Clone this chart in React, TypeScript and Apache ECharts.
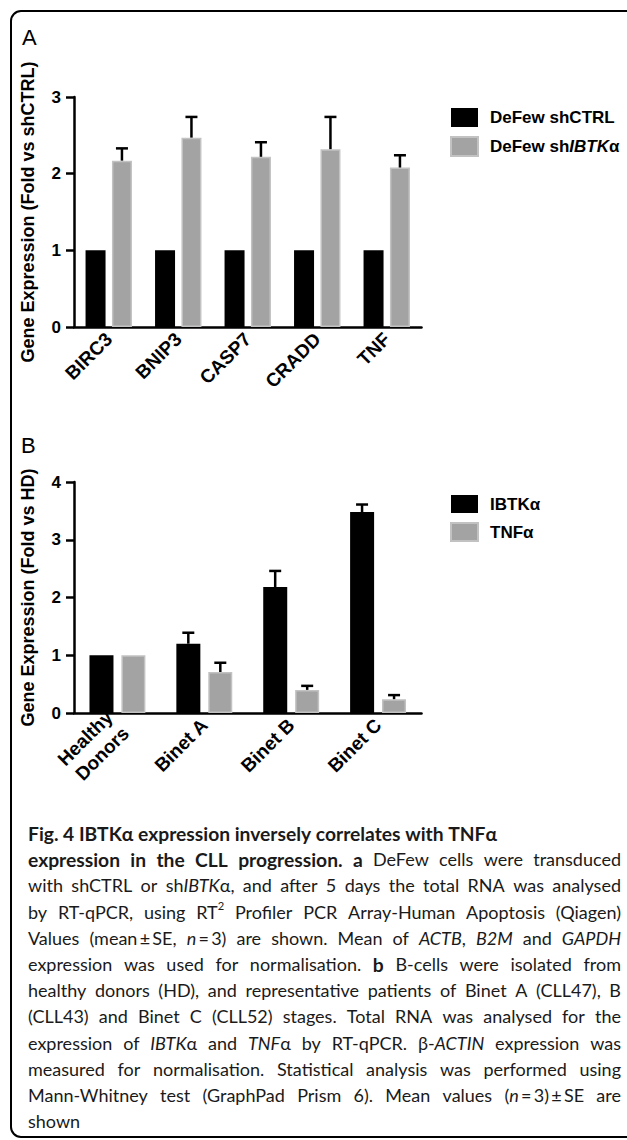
import React, { useEffect, useRef } from "react";
import * as echarts from "echarts";

const FONT = "'Liberation Sans', Arial, Helvetica, sans-serif";
const CAP_FONT = "Lato, 'Open Sans', sans-serif";

// ---------- Panel A data ----------
const genesA = ["BIRC3", "BNIP3", "CASP7", "CRADD", "TNF"];
const shCtrlA = [1, 1, 1, 1, 1];
const shIbtkA = [2.17, 2.47, 2.22, 2.32, 2.08];
const shIbtkErrA = [0.16, 0.27, 0.19, 0.42, 0.16];
const legendA = ["DeFew shCTRL", "DeFew shIBTKα"];

// ---------- Panel B data ----------
const groupsB = ["Healthy\nDonors", "Binet A", "Binet B", "Binet C"];
const ibtkB = [1, 1.2, 2.18, 3.48];
const ibtkErrB = [0, 0.19, 0.28, 0.13];
const tnfB = [1, 0.71, 0.4, 0.24];
const tnfErrB = [0, 0.16, 0.07, 0.07];
const legendB = ["IBTKα", "TNFα"];

// ---------- Caption ----------
type Run = { t: string; b?: boolean; i?: boolean; sup?: boolean };
type CapLine = { runs: Run[]; justify: boolean };
const captionLines: CapLine[] = [
  { runs: [{ t: "Fig. 4 IBTKα expression inversely correlates with TNFα", b: true }], justify: false },
  { runs: [{ t: "expression in the CLL progression.", b: true }, { t: " " }, { t: "a", b: true }, { t: " DeFew cells were transduced" }], justify: true },
  { runs: [{ t: "with shCTRL or sh" }, { t: "IBTK", i: true }, { t: "α, and after 5 days the total RNA was analysed" }], justify: true },
  { runs: [{ t: "by RT-qPCR, using RT" }, { t: "2", sup: true }, { t: " Profiler PCR Array-Human Apoptosis (Qiagen)" }], justify: true },
  { runs: [{ t: "Values (mean\u2009±\u2009SE, " }, { t: "n", i: true }, { t: "\u2009=\u20093) are shown. Mean of " }, { t: "ACTB", i: true }, { t: ", " }, { t: "B2M", i: true }, { t: " and " }, { t: "GAPDH", i: true }], justify: true },
  { runs: [{ t: "expression was used for normalisation. " }, { t: "b", b: true }, { t: " B-cells were isolated from" }], justify: true },
  { runs: [{ t: "healthy donors (HD), and representative patients of Binet A (CLL47), B" }], justify: true },
  { runs: [{ t: "(CLL43) and Binet C (CLL52) stages. Total RNA was analysed for the" }], justify: true },
  { runs: [{ t: "expression of " }, { t: "IBTK", i: true }, { t: "α and " }, { t: "TNF", i: true }, { t: "α by RT-qPCR. β-" }, { t: "ACTIN", i: true }, { t: " expression was" }], justify: true },
  { runs: [{ t: "measured for normalisation. Statistical analysis was performed using" }], justify: true },
  { runs: [{ t: "Mann-Whitney test (GraphPad Prism 6). Mean values (" }, { t: "n", i: true }, { t: "\u2009=\u20093)\u2009±\u2009SE are" }], justify: true },
  { runs: [{ t: "shown" }], justify: false },
];

function fontStr(r: Run, size: number) {
  const s = r.sup ? size * 0.62 : r.b ? size * 1.07 : size;
  return `${r.i ? "italic " : ""}${r.b ? "bold " : ""}${s}px ${CAP_FONT}`;
}

function toWords(runs: Run[]): Run[][] {
  const words: Run[][] = [];
  let cur: Run[] = [];
  runs.forEach((r) => {
    const parts = r.t.split(" ");
    parts.forEach((p, pi) => {
      if (pi > 0) {
        if (cur.length) words.push(cur);
        cur = [];
      }
      if (p.length) cur.push({ ...r, t: p });
    });
  });
  if (cur.length) words.push(cur);
  return words;
}

function buildCaption(): any[] {
  const canvas = document.createElement("canvas");
  const ctx = canvas.getContext("2d") as CanvasRenderingContext2D;
  const left = 28;
  const right = 621;
  const avail = right - left;
  const y0 = 833;
  const step = 26.2;
  const measure = (r: Run, size: number) => {
    ctx.font = fontStr(r, size);
    return ctx.measureText(r.t).width;
  };
  const parsed = captionLines.map((l) => ({ ...l, words: toWords(l.runs) }));
  let size = 18;
  for (; size > 12; size -= 0.25) {
    const sw = measure({ t: " " }, size);
    const ok = parsed.every((l) => {
      const total = l.words.reduce((s, w) => s + w.reduce((a, r) => a + measure(r, size), 0), 0);
      return total + (l.words.length - 1) * sw * 0.7 <= avail;
    });
    if (ok) break;
  }
  const spaceW = measure({ t: " " }, size);
  const els: any[] = [];
  parsed.forEach((l, li) => {
    const widths = l.words.map((w) => w.reduce((a, r) => a + measure(r, size), 0));
    const total = widths.reduce((a, b) => a + b, 0);
    const gap = l.justify && l.words.length > 1 ? (avail - total) / (l.words.length - 1) : spaceW;
    let x = left;
    const y = y0 + li * step;
    l.words.forEach((w) => {
      w.forEach((r) => {
        const rw = measure(r, size);
        els.push({
          type: "text",
          x,
          y: r.sup ? y - size * 0.33 : y,
          silent: true,
          style: { text: r.t, font: fontStr(r, size), fill: "#1a1a1a", textVerticalAlign: "middle" },
        });
        x += rw;
      });
      x += gap;
    });
  });
  return els;
}

function errRender(offset: number) {
  return (params: any, api: any) => {
    const i = api.value(0);
    const v = api.value(1);
    const e = api.value(2);
    if (!e) return null;
    const base = api.coord([i, v]);
    const top = api.coord([i, v + e]);
    const x = base[0] + offset;
    return {
      type: "group",
      children: [
        { type: "line", shape: { x1: x, y1: base[1], x2: x, y2: top[1] }, style: { stroke: "#000", lineWidth: 2.5 } },
        { type: "line", shape: { x1: x - 6, y1: top[1], x2: x + 6, y2: top[1] }, style: { stroke: "#000", lineWidth: 2.5 } },
      ],
    };
  };
}

const axisLineStyle = { color: "#000", width: 2.5 };
const GRAY = { color: "#a3a3a3", borderColor: "#c2c2c2", borderWidth: 1.5 };

function makeOption() {
  const catLabel = {
    rotate: 45,
    margin: 9,
    color: "#000",
    fontFamily: FONT,
    fontWeight: "bold",
    fontSize: 19,
    lineHeight: 23,
    interval: 0,
  };
  const yLabel = { margin: 13, color: "#000", fontFamily: FONT, fontWeight: "bold", fontSize: 17 };
  const legendText = {
    fontFamily: FONT,
    fontWeight: "bold",
    fontSize: 17,
    color: "#000",
    padding: [0, 0, 0, 7],
    rich: { i: { fontFamily: FONT, fontWeight: "bold", fontStyle: "italic", fontSize: 17, color: "#000" } },
  };
  return {
    animation: false,
    backgroundColor: "#ffffff",
    grid: [
      { left: 74, top: 97, width: 347.5, height: 230 },
      { left: 74, top: 482, width: 347.5, height: 231 },
    ],
    xAxis: [
      {
        gridIndex: 0,
        type: "category",
        data: genesA,
        axisLine: { lineStyle: axisLineStyle },
        axisTick: { alignWithLabel: true, length: 8, lineStyle: axisLineStyle },
        axisLabel: catLabel,
      },
      {
        gridIndex: 1,
        type: "category",
        data: groupsB.map((g, i) => (i === 0 ? { value: g, textStyle: { padding: [23, 0, 0, 0] } } : g)),
        axisLine: { lineStyle: axisLineStyle },
        axisTick: { alignWithLabel: true, length: 8, lineStyle: axisLineStyle },
        axisLabel: catLabel,
      },
    ],
    yAxis: [
      {
        gridIndex: 0,
        type: "value",
        min: 0,
        max: 3,
        interval: 1,
        axisLine: { show: true, lineStyle: axisLineStyle },
        axisTick: { show: true, length: 8, lineStyle: axisLineStyle },
        splitLine: { show: false },
        axisLabel: yLabel,
      },
      {
        gridIndex: 1,
        type: "value",
        min: 0,
        max: 4,
        interval: 1,
        axisLine: { show: true, lineStyle: axisLineStyle },
        axisTick: { show: true, length: 8, lineStyle: axisLineStyle },
        splitLine: { show: false },
        axisLabel: yLabel,
      },
    ],
    legend: [
      {
        left: 445,
        top: 103,
        orient: "vertical",
        icon: "rect",
        itemWidth: 27,
        itemHeight: 19,
        itemGap: 9,
        selectedMode: false,
        data: legendA,
        formatter: (n: string) => (n === legendA[1] ? "DeFew sh{i|IBTK}α" : n),
        textStyle: legendText,
      },
      {
        left: 445,
        top: 490,
        orient: "vertical",
        icon: "rect",
        itemWidth: 27,
        itemHeight: 18,
        itemGap: 9,
        selectedMode: false,
        data: legendB,
        textStyle: legendText,
      },
    ],
    series: [
      { name: legendA[0], type: "bar", xAxisIndex: 0, yAxisIndex: 0, data: shCtrlA, barWidth: 20, barGap: "32%", itemStyle: { color: "#000" } },
      { name: legendA[1], type: "bar", xAxisIndex: 0, yAxisIndex: 0, data: shIbtkA, barWidth: 20, barGap: "32%", itemStyle: GRAY },
      {
        type: "custom",
        xAxisIndex: 0,
        yAxisIndex: 0,
        silent: true,
        z: 5,
        encode: { x: 0, y: 1 },
        renderItem: errRender(13.2),
        data: shIbtkA.map((v, i) => [i, v, shIbtkErrA[i]]),
      },
      { name: legendB[0], type: "bar", xAxisIndex: 1, yAxisIndex: 1, data: ibtkB, barWidth: 24, barGap: "33%", itemStyle: { color: "#000" } },
      { name: legendB[1], type: "bar", xAxisIndex: 1, yAxisIndex: 1, data: tnfB, barWidth: 24, barGap: "33%", itemStyle: GRAY },
      {
        type: "custom",
        xAxisIndex: 1,
        yAxisIndex: 1,
        silent: true,
        z: 5,
        encode: { x: 0, y: 1 },
        renderItem: errRender(-16),
        data: ibtkB.map((v, i) => [i, v, ibtkErrB[i]]),
      },
      {
        type: "custom",
        xAxisIndex: 1,
        yAxisIndex: 1,
        silent: true,
        z: 5,
        encode: { x: 0, y: 1 },
        renderItem: errRender(16),
        data: tnfB.map((v, i) => [i, v, tnfErrB[i]]),
      },
    ],
    graphic: {
      elements: [
        {
          type: "rect",
          silent: true,
          shape: { x: 11, y: 11, width: 740, height: 1126, r: 10 },
          style: { fill: "none", stroke: "#000", lineWidth: 2 },
        },
        { type: "text", x: 22, y: 37, style: { text: "A", font: `22px ${FONT}`, fill: "#000", textVerticalAlign: "middle" } },
        { type: "text", x: 21, y: 445, style: { text: "B", font: `22px ${FONT}`, fill: "#000", textVerticalAlign: "middle" } },
        {
          type: "text",
          x: 28,
          y: 212,
          rotation: Math.PI / 2,
          style: { text: "Gene Expression (Fold vs shCTRL)", font: `bold 18px ${FONT}`, fill: "#000", textAlign: "center", textVerticalAlign: "middle" },
        },
        {
          type: "text",
          x: 28,
          y: 597.5,
          rotation: Math.PI / 2,
          style: { text: "Gene Expression (Fold vs HD)", font: `bold 18px ${FONT}`, fill: "#000", textAlign: "center", textVerticalAlign: "middle" },
        },
        ...buildCaption(),
      ],
    },
  };
}

export default function App() {
  const ref = useRef<HTMLDivElement>(null);
  useEffect(() => {
    document.body.style.margin = "0";
    if (!ref.current) return;
    const chart = echarts.init(ref.current, undefined, { renderer: "svg" });
    chart.setOption(makeOption() as any);
    return () => chart.dispose();
  }, []);
  return <div ref={ref} style={{ position: "absolute", left: 0, top: 0, width: 627, height: 1140, background: "#fff" }} />;
}
